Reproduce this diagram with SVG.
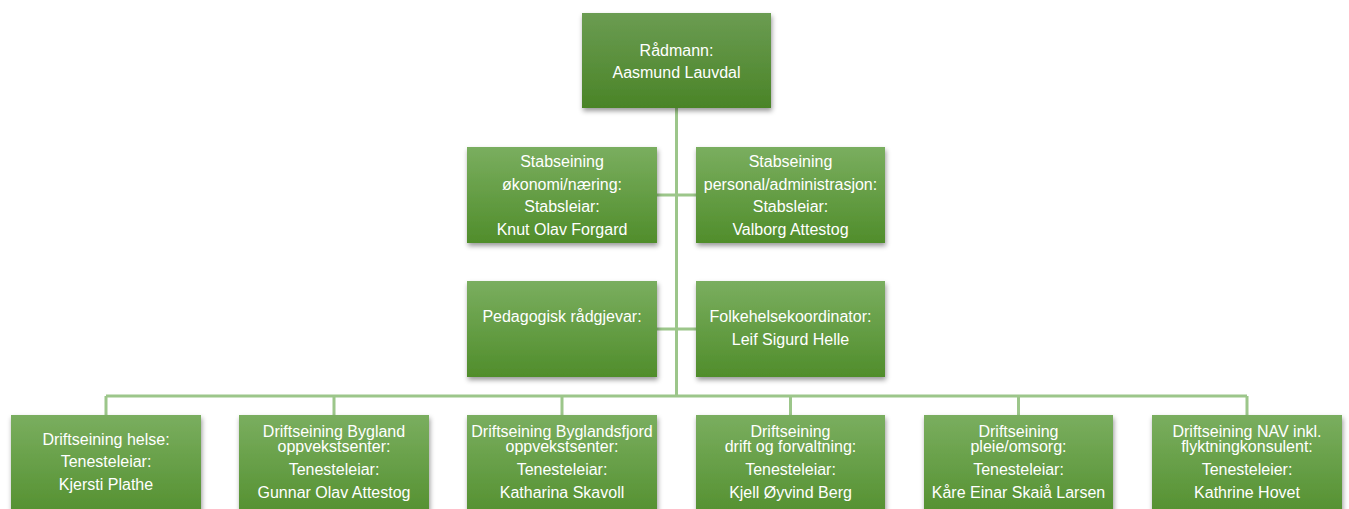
<svg xmlns="http://www.w3.org/2000/svg" width="1349" height="509" viewBox="0 0 1349 509">
<defs>
<linearGradient id="g" x1="0" y1="0" x2="0" y2="1">
<stop offset="0" stop-color="#7aae5f"/>
<stop offset="1" stop-color="#508d2b"/>
</linearGradient>
<linearGradient id="gt" x1="0" y1="0" x2="0" y2="1">
<stop offset="0" stop-color="#6b9c52"/>
<stop offset="1" stop-color="#4a8427"/>
</linearGradient>
<filter id="sh" x="-10%" y="-10%" width="125%" height="130%">
<feDropShadow dx="1" dy="3" stdDeviation="2.5" flood-color="#000" flood-opacity="0.4"/>
</filter>
</defs>
<style>
.b{fill:url(#g);filter:url(#sh)}
.bt{fill:url(#gt);filter:url(#sh)}
text{font-family:"Liberation Sans",Arial,sans-serif;font-size:16px;fill:#fff;text-anchor:middle}
.c{stroke:#9cc68a;stroke-width:3;fill:none}
</style>
<rect width="1349" height="509" fill="#fff"/>
<g id="connectors">
<path class="c" d="M676.5 108V396M657 195H696M657 329H696M106 396H1247M106 396V415M334 396V415M562 396V415M790.5 396V415M1018.5 396V415M1247 396V415"/>
</g>
<g id="n-radmann">
<rect class="bt" x="582" y="13" width="189" height="95"/>
<text x="676.5" y="56">Rådmann:</text>
<text x="676.5" y="78">Aasmund Lauvdal</text>
</g>
<g id="n-okonomi">
<rect class="b" x="467" y="147" width="190" height="96"/>
<text x="562" y="167">Stabseining</text>
<text x="562" y="190">økonomi/næring:</text>
<text x="562" y="212">Stabsleiar:</text>
<text x="562" y="235">Knut Olav Forgard</text>
</g>
<g id="n-personal">
<rect class="b" x="696" y="147" width="189" height="96"/>
<text x="790.5" y="167">Stabseining</text>
<text x="790.5" y="190">personal/administrasjon:</text>
<text x="790.5" y="212">Stabsleiar:</text>
<text x="790.5" y="235">Valborg Attestog</text>
</g>
<g id="n-pedagogisk">
<rect class="b" x="467" y="281" width="190" height="96"/>
<text x="562" y="322">Pedagogisk rådgjevar:</text>
</g>
<g id="n-folkehelse">
<rect class="b" x="696" y="281" width="189" height="96"/>
<text x="790.5" y="322">Folkehelsekoordinator:</text>
<text x="790.5" y="345">Leif Sigurd Helle</text>
</g>
<g id="n-helse">
<rect class="b" x="11" y="415" width="190" height="110"/>
<text x="106" y="445">Driftseining helse:</text>
<text x="106" y="467">Tenesteleiar:</text>
<text x="106" y="490">Kjersti Plathe</text>
</g>
<g id="n-bygland">
<rect class="b" x="239" y="415" width="190" height="110"/>
<text x="334" y="437">Driftseining Bygland</text>
<text x="334" y="452">oppvekstsenter:</text>
<text x="334" y="475">Tenesteleiar:</text>
<text x="334" y="498">Gunnar Olav Attestog</text>
</g>
<g id="n-byglandsfjord">
<rect class="b" x="467" y="415" width="190" height="110"/>
<text x="562" y="437">Driftseining Byglandsfjord</text>
<text x="562" y="452">oppvekstsenter:</text>
<text x="562" y="475">Tenesteleiar:</text>
<text x="562" y="498">Katharina Skavoll</text>
</g>
<g id="n-drift">
<rect class="b" x="696" y="415" width="189" height="110"/>
<text x="790.5" y="437">Driftseining</text>
<text x="790.5" y="452">drift og forvaltning:</text>
<text x="790.5" y="475">Tenesteleiar:</text>
<text x="790.5" y="498">Kjell Øyvind Berg</text>
</g>
<g id="n-pleie">
<rect class="b" x="924" y="415" width="189" height="110"/>
<text x="1018.5" y="437">Driftseining</text>
<text x="1018.5" y="452">pleie/omsorg:</text>
<text x="1018.5" y="475">Tenesteleiar:</text>
<text x="1018.5" y="498">Kåre Einar Skaiå Larsen</text>
</g>
<g id="n-nav">
<rect class="b" x="1152" y="415" width="190" height="110"/>
<text x="1247" y="437">Driftseining NAV inkl.</text>
<text x="1247" y="452">flyktningkonsulent:</text>
<text x="1247" y="475">Tenesteleier:</text>
<text x="1247" y="498">Kathrine Hovet</text>
</g>
</svg>
